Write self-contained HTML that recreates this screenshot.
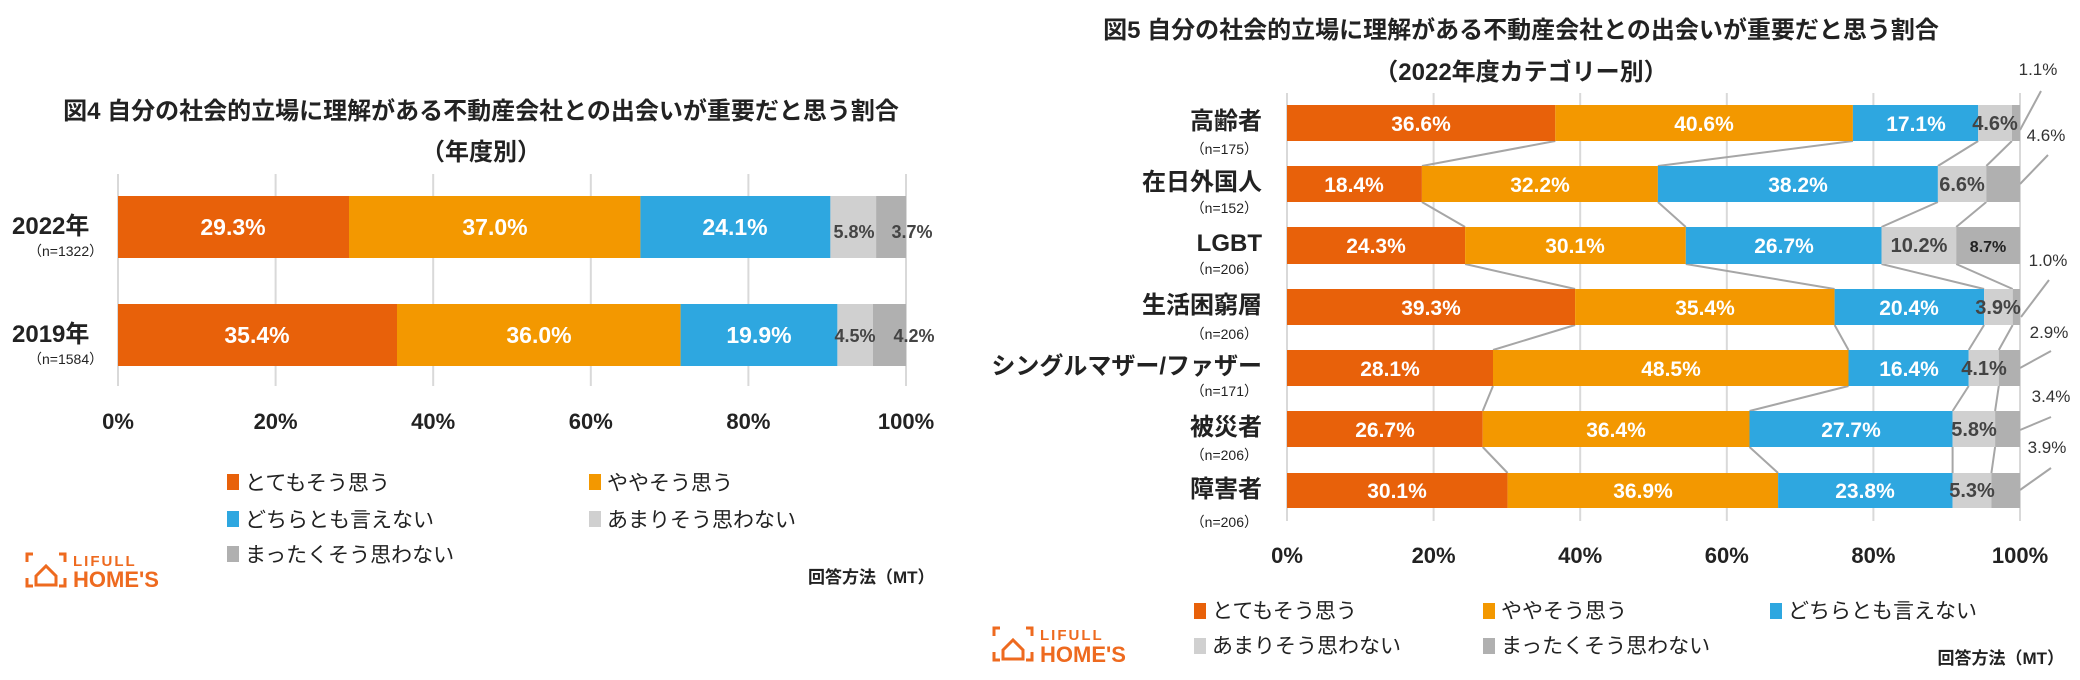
<!DOCTYPE html>
<html><head><meta charset="utf-8"><style>
html,body{margin:0;padding:0;background:#fff;}
svg{display:block;font-family:"Liberation Sans","Noto Sans CJK JP",sans-serif;}
.t{font-weight:bold;font-size:24px;fill:#222}
.w{fill:#fff;font-weight:bold;font-size:23px}
.g{fill:#444;font-weight:bold;font-size:18px}
.ax{font-size:22px;font-weight:bold;fill:#222}
.lg{font-size:21px;fill:#222}
.n{font-size:14px;fill:#222}
.o{font-size:17px;fill:#333}
</style></head><body>
<svg width="2080" height="680" viewBox="0 0 2080 680" xmlns="http://www.w3.org/2000/svg">
<!-- LEFT CHART -->
<text class="t" x="481" y="119" text-anchor="middle">図4 自分の社会的立場に理解がある不動産会社との出会いが重要だと思う割合</text>
<text class="t" x="481" y="160" text-anchor="middle">（年度別）</text>
<g stroke="#d9d9d9" stroke-width="2">
<line x1="118" y1="174" x2="118" y2="386"/><line x1="275.6" y1="174" x2="275.6" y2="386"/><line x1="433.2" y1="174" x2="433.2" y2="386"/><line x1="590.8" y1="174" x2="590.8" y2="386"/><line x1="748.4" y1="174" x2="748.4" y2="386"/><line x1="906" y1="174" x2="906" y2="386"/>
</g>
<rect x="118" y="196" width="231" height="62" fill="#E8610A"/>
<rect x="349" y="196" width="291.4" height="62" fill="#F39800"/>
<rect x="640.4" y="196" width="190" height="62" fill="#2EA7E0"/>
<rect x="830.4" y="196" width="45.7" height="62" fill="#D0D0D0"/>
<rect x="876.1" y="196" width="29.9" height="62" fill="#B0B0B0"/>
<rect x="118" y="304" width="279" height="62" fill="#E8610A"/>
<rect x="397" y="304" width="283.6" height="62" fill="#F39800"/>
<rect x="680.6" y="304" width="156.8" height="62" fill="#2EA7E0"/>
<rect x="837.4" y="304" width="35.5" height="62" fill="#D0D0D0"/>
<rect x="872.9" y="304" width="33.1" height="62" fill="#B0B0B0"/>
<g text-anchor="middle">
<text class="w" x="233" y="235">29.3%</text><text class="w" x="495" y="235">37.0%</text><text class="w" x="735" y="235">24.1%</text>
<text class="g" x="854" y="238">5.8%</text><text class="g" x="912" y="238">3.7%</text>
<text class="w" x="257" y="343">35.4%</text><text class="w" x="539" y="343">36.0%</text><text class="w" x="759" y="343">19.9%</text>
<text class="g" x="855" y="342">4.5%</text><text class="g" x="914" y="342">4.2%</text>
</g>
<text class="t" x="12" y="234">2022年</text><text class="n" x="28" y="256">（n=1322）</text>
<text class="t" x="12" y="342">2019年</text><text class="n" x="28" y="364">（n=1584）</text>
<g text-anchor="middle">
<text class="ax" x="118" y="429">0%</text><text class="ax" x="275.6" y="429">20%</text><text class="ax" x="433.2" y="429">40%</text><text class="ax" x="590.8" y="429">60%</text><text class="ax" x="748.4" y="429">80%</text><text class="ax" x="906" y="429">100%</text>
</g>
<rect x="227" y="474" width="12" height="16" fill="#E8610A"/><text class="lg" x="245" y="490">とてもそう思う</text>
<rect x="589" y="474" width="12" height="16" fill="#F39800"/><text class="lg" x="607" y="490">ややそう思う</text>
<rect x="227" y="511" width="12" height="16" fill="#2EA7E0"/><text class="lg" x="245" y="527">どちらとも言えない</text>
<rect x="589" y="511" width="12" height="16" fill="#D0D0D0"/><text class="lg" x="607" y="527">あまりそう思わない</text>
<rect x="227" y="546" width="12" height="16" fill="#B0B0B0"/><text class="lg" x="245" y="562">まったくそう思わない</text>
<g fill="none" stroke="#EE6A1F" stroke-width="3">
<path d="M27 562v-8h6M59 554h6v8M27 578v8h6M59 586h6v-8"/><path d="M36 576l10-10 10 10v9h-20z"/>
</g>
<text x="73" y="566" font-size="15" font-weight="bold" fill="#EE6A1F" letter-spacing="2">LIFULL</text>
<text x="73" y="587" font-size="22" font-weight="bold" fill="#EE6A1F">HOME'S</text>
<text x="808" y="583" font-size="17" font-weight="bold" fill="#222">回答方法（MT）</text>

<!-- RIGHT CHART -->
<text class="t" x="1521" y="38" text-anchor="middle">図5 自分の社会的立場に理解がある不動産会社との出会いが重要だと思う割合</text>
<text class="t" x="1521" y="80" text-anchor="middle">（2022年度カテゴリー別）</text>
<g stroke="#d9d9d9" stroke-width="2">
<line x1="1287" y1="93" x2="1287" y2="521"/><line x1="1433.6" y1="93" x2="1433.6" y2="521"/><line x1="1580.2" y1="93" x2="1580.2" y2="521"/><line x1="1726.8" y1="93" x2="1726.8" y2="521"/><line x1="1873.4" y1="93" x2="1873.4" y2="521"/><line x1="2020" y1="93" x2="2020" y2="521"/>
</g>
<g stroke="#A6A6A6" stroke-width="2" fill="none">
<path d="M1555.3 141L1421.9 166M1852.9 141L1657.9 166M1978.2 141L1937.9 166M2011.9 141L1986.3 166"/>
<path d="M1421.9 202L1465.1 227M1657.9 202L1685.8 227M1937.9 202L1881.5 227M1986.3 202L1956.2 227"/>
<path d="M1465.1 264L1575.1 289M1685.8 264L1834.6 289M1881.5 264L1984.1 289M1956.2 264L2012.7 289"/>
<path d="M1575.1 325L1493 350M1834.6 325L1848.5 350M1984.1 325L1968.7 350M2012.7 325L1998.8 350"/>
<path d="M1493 386L1482.7 411M1848.5 386L1749.5 411M1968.7 386L1952.6 411M1998.8 386L1995.1 411"/>
<path d="M1482.7 447L1507.6 473M1749.5 447L1778.1 473M1952.6 447L1952.6 473M1995.1 447L1991.4 473"/>
<path d="M2020 130L2041 91M2020 184L2048 155M2021 317L2049 280M2020 368L2051 351M2020 430L2051 417M2020 490L2051 468"/>
</g>
<g>
<rect x="1287" y="105" width="268.3" height="36" fill="#E8610A"/><rect x="1555.3" y="105" width="297.6" height="36" fill="#F39800"/><rect x="1852.9" y="105" width="125.3" height="36" fill="#2EA7E0"/><rect x="1978.2" y="105" width="33.7" height="36" fill="#D0D0D0"/><rect x="2011.9" y="105" width="8.1" height="36" fill="#B0B0B0"/>
<rect x="1287" y="166" width="134.9" height="36" fill="#E8610A"/><rect x="1421.9" y="166" width="236" height="36" fill="#F39800"/><rect x="1657.9" y="166" width="280" height="36" fill="#2EA7E0"/><rect x="1937.9" y="166" width="48.4" height="36" fill="#D0D0D0"/><rect x="1986.3" y="166" width="33.7" height="36" fill="#B0B0B0"/>
<rect x="1287" y="227" width="178.1" height="37" fill="#E8610A"/><rect x="1465.1" y="227" width="220.7" height="37" fill="#F39800"/><rect x="1685.8" y="227" width="195.7" height="37" fill="#2EA7E0"/><rect x="1881.5" y="227" width="74.7" height="37" fill="#D0D0D0"/><rect x="1956.2" y="227" width="63.8" height="37" fill="#B0B0B0"/>
<rect x="1287" y="289" width="288.1" height="36" fill="#E8610A"/><rect x="1575.1" y="289" width="259.5" height="36" fill="#F39800"/><rect x="1834.6" y="289" width="149.5" height="36" fill="#2EA7E0"/><rect x="1984.1" y="289" width="28.6" height="36" fill="#D0D0D0"/><rect x="2012.7" y="289" width="7.3" height="36" fill="#B0B0B0"/>
<rect x="1287" y="350" width="206" height="36" fill="#E8610A"/><rect x="1493" y="350" width="355.5" height="36" fill="#F39800"/><rect x="1848.5" y="350" width="120.2" height="36" fill="#2EA7E0"/><rect x="1968.7" y="350" width="30.1" height="36" fill="#D0D0D0"/><rect x="1998.8" y="350" width="21.2" height="36" fill="#B0B0B0"/>
<rect x="1287" y="411" width="195.7" height="36" fill="#E8610A"/><rect x="1482.7" y="411" width="266.8" height="36" fill="#F39800"/><rect x="1749.5" y="411" width="203.1" height="36" fill="#2EA7E0"/><rect x="1952.6" y="411" width="42.5" height="36" fill="#D0D0D0"/><rect x="1995.1" y="411" width="24.9" height="36" fill="#B0B0B0"/>
<rect x="1287" y="473" width="220.6" height="35" fill="#E8610A"/><rect x="1507.6" y="473" width="270.5" height="35" fill="#F39800"/><rect x="1778.1" y="473" width="174.5" height="35" fill="#2EA7E0"/><rect x="1952.6" y="473" width="38.8" height="35" fill="#D0D0D0"/><rect x="1991.4" y="473" width="28.6" height="35" fill="#B0B0B0"/>
</g>
<g text-anchor="middle">
<text class="w" x="1421" y="131" style="font-size:21px">36.6%</text><text class="w" x="1704" y="131" style="font-size:21px">40.6%</text><text class="w" x="1916" y="131" style="font-size:21px">17.1%</text><text class="g" x="1995" y="130" style="font-size:20px">4.6%</text>
<text class="w" x="1354" y="192" style="font-size:21px">18.4%</text><text class="w" x="1540" y="192" style="font-size:21px">32.2%</text><text class="w" x="1798" y="192" style="font-size:21px">38.2%</text><text class="g" x="1962" y="191" style="font-size:20px">6.6%</text>
<text class="w" x="1376" y="253" style="font-size:21px">24.3%</text><text class="w" x="1575" y="253" style="font-size:21px">30.1%</text><text class="w" x="1784" y="253" style="font-size:21px">26.7%</text><text class="g" x="1919" y="252" style="font-size:20px">10.2%</text><text class="g" x="1988" y="252" style="font-size:16px;fill:#222">8.7%</text>
<text class="w" x="1431" y="315" style="font-size:21px">39.3%</text><text class="w" x="1705" y="315" style="font-size:21px">35.4%</text><text class="w" x="1909" y="315" style="font-size:21px">20.4%</text><text class="g" x="1998" y="314" style="font-size:20px">3.9%</text>
<text class="w" x="1390" y="376" style="font-size:21px">28.1%</text><text class="w" x="1671" y="376" style="font-size:21px">48.5%</text><text class="w" x="1909" y="376" style="font-size:21px">16.4%</text><text class="g" x="1984" y="375" style="font-size:20px">4.1%</text>
<text class="w" x="1385" y="437" style="font-size:21px">26.7%</text><text class="w" x="1616" y="437" style="font-size:21px">36.4%</text><text class="w" x="1851" y="437" style="font-size:21px">27.7%</text><text class="g" x="1974" y="436" style="font-size:20px">5.8%</text>
<text class="w" x="1397" y="498" style="font-size:21px">30.1%</text><text class="w" x="1643" y="498" style="font-size:21px">36.9%</text><text class="w" x="1865" y="498" style="font-size:21px">23.8%</text><text class="g" x="1972" y="497" style="font-size:20px">5.3%</text>
<text class="o" x="2038" y="75">1.1%</text><text class="o" x="2046" y="141">4.6%</text><text class="o" x="2048" y="266">1.0%</text><text class="o" x="2049" y="338">2.9%</text><text class="o" x="2051" y="402">3.4%</text><text class="o" x="2047" y="453">3.9%</text>
</g>
<g text-anchor="end">
<text class="t" x="1262" y="129">高齢者</text><text class="n" x="1258" y="154">（n=175）</text>
<text class="t" x="1262" y="190">在日外国人</text><text class="n" x="1258" y="213">（n=152）</text>
<text class="t" x="1262" y="251">LGBT</text><text class="n" x="1258" y="274">（n=206）</text>
<text class="t" x="1262" y="313">生活困窮層</text><text class="n" x="1258" y="339">（n=206）</text>
<text class="t" x="1262" y="374">シングルマザー/ファザー</text><text class="n" x="1258" y="396">（n=171）</text>
<text class="t" x="1262" y="435">被災者</text><text class="n" x="1258" y="460">（n=206）</text>
<text class="t" x="1262" y="497">障害者</text><text class="n" x="1258" y="527">（n=206）</text>
</g>
<g text-anchor="middle">
<text class="ax" x="1287" y="563">0%</text><text class="ax" x="1433.6" y="563">20%</text><text class="ax" x="1580.2" y="563">40%</text><text class="ax" x="1726.8" y="563">60%</text><text class="ax" x="1873.4" y="563">80%</text><text class="ax" x="2020" y="563">100%</text>
</g>
<rect x="1194" y="603" width="12" height="16" fill="#E8610A"/><text class="lg" x="1212" y="618">とてもそう思う</text>
<rect x="1483" y="603" width="12" height="16" fill="#F39800"/><text class="lg" x="1501" y="618">ややそう思う</text>
<rect x="1770" y="603" width="12" height="16" fill="#2EA7E0"/><text class="lg" x="1788" y="618">どちらとも言えない</text>
<rect x="1194" y="638" width="12" height="16" fill="#D0D0D0"/><text class="lg" x="1212" y="653">あまりそう思わない</text>
<rect x="1483" y="638" width="12" height="16" fill="#B0B0B0"/><text class="lg" x="1501" y="653">まったくそう思わない</text>
<g fill="none" stroke="#EE6A1F" stroke-width="3">
<path d="M994 636v-8h6M1026 628h6v8M994 652v8h6M1026 660h6v-8"/><path d="M1003 650l10-10 10 10v9h-20z"/>
</g>
<text x="1040" y="640" font-size="15" font-weight="bold" fill="#EE6A1F" letter-spacing="2">LIFULL</text>
<text x="1040" y="662" font-size="22" font-weight="bold" fill="#EE6A1F">HOME'S</text>
<text x="2064" y="664" font-size="17" font-weight="bold" fill="#222" text-anchor="end">回答方法（MT）</text>
</svg>
</body></html>
